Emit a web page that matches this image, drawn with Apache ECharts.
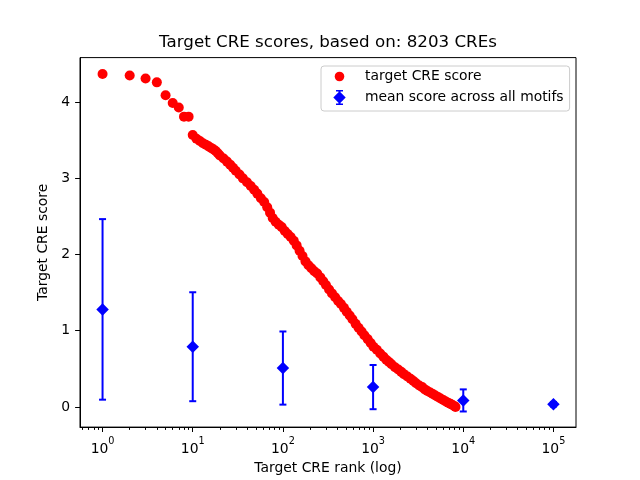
<!DOCTYPE html>
<html>
<head>
<meta charset="utf-8">
<script src="https://cdn.jsdelivr.net/npm/echarts@6/dist/echarts.min.js"></script>
<style>html,body{margin:0;padding:0;background:#fff}#c{width:640px;height:480px}</style>
</head>
<body>
<div id="c"></div>
<script>
// ---- data ----
const creRanks = [1,2,3,4,5,6,7,8,9,10,11,12,13,14,15,16,17,18,19,20,22,24,26,28,30,33,36,40,44,48,52,57,62,67,72,77,83,90,97,105,113,122,132,142,153,165,178,192,207,223,240,260,280,300,325,350,380,410,440,475,510,550,590,640,690,745,800,870,940,1010,1100,1200,1300,1400,1500,1600,1750,1900,2050,2200,2400,2600,2800,3000,3250,3500,3750,4000,4300,4600,4900,5250,5600,6000,6400,6800,7200,7600,8000,8203];
const creScores = [4.37,4.35,4.31,4.26,4.09,3.99,3.93,3.81,3.81,3.57,3.52,3.49,3.46,3.44,3.42,3.40,3.38,3.36,3.33,3.30,3.26,3.22,3.18,3.14,3.10,3.05,3.00,2.95,2.90,2.85,2.80,2.74,2.69,2.62,2.55,2.48,2.43,2.39,2.36,2.31,2.27,2.23,2.18,2.12,2.05,1.98,1.91,1.86,1.82,1.78,1.75,1.70,1.65,1.60,1.54,1.49,1.44,1.39,1.35,1.30,1.25,1.20,1.15,1.09,1.04,0.99,0.94,0.89,0.84,0.79,0.75,0.70,0.66,0.62,0.59,0.56,0.52,0.49,0.46,0.43,0.40,0.37,0.34,0.31,0.28,0.26,0.23,0.21,0.19,0.17,0.15,0.13,0.11,0.09,0.07,0.055,0.04,0.025,0.01,0.0];
const meanRanks = [1,10,100,1000,10000,100000];
const meanScores = [1.28,0.79,0.51,0.26,0.085,0.035];
const meanErrors = [1.185,0.715,0.48,0.29,0.145,0.03];
const xTickValues = [1,10,100,1000,10000,100000];
const xTickExponents = ['0','1','2','3','4','5'];
const xMinorTicks = [0.6,0.7,0.8,0.9,2,3,4,5,6,7,8,9,20,30,40,50,60,70,80,90,200,300,400,500,600,700,800,900,2000,3000,4000,5000,6000,7000,8000,9000,20000,30000,40000,50000,60000,70000,80000,90000];
const yTickValues = [0,1,2,3,4];
const titleText = 'Target CRE scores, based on: 8203 CREs';
const xName = 'Target CRE rank (log)';
const yName = 'Target CRE score';
const seriesNames = ['target CRE score','mean score across all motifs'];

const FONT = 'DejaVu Sans';
const chart = echarts.init(document.getElementById('c'), null, {renderer:'canvas'});
const xMin = Math.pow(10,-0.25), xMax = Math.pow(10,5.25);

const circleIcon = 'path://M0,0 M30,15 M4.7,7.5 A4.8,4.8 0 1,1 14.3,7.5 A4.8,4.8 0 1,1 4.7,7.5 Z';
const diamondIcon = 'path://M0,0 M30,15 M9.5,1.3 L15.7,7.5 L9.5,13.7 L3.3,7.5 Z M8.5,0 L10.5,0 L10.5,15 L8.5,15 Z M6,0 L13,0 L13,1.6 L6,1.6 Z M6,13.4 L13,13.4 L13,15 L6,15 Z';

const expOf = {};
xTickValues.forEach((v,i)=>{expOf[v]=xTickExponents[i];});

chart.setOption({
  animation:false,
  backgroundColor:'#fff',
  title:{text:titleText,left:328,top:34,padding:0,textAlign:'center',
    textStyle:{fontFamily:FONT,fontSize:16.7,fontWeight:'normal',color:'#000'}},
  legend:{
    orient:'vertical',left:321,top:66,padding:[3,6,6,9],itemGap:6,
    itemWidth:30,itemHeight:15,
    borderColor:'#cccccc',borderWidth:1,borderRadius:3,backgroundColor:'rgba(255,255,255,0.8)',
    textStyle:{fontFamily:FONT,fontSize:13.9,color:'#000'},
    data:[{name:seriesNames[0],icon:circleIcon},{name:seriesNames[1],icon:diamondIcon}]
  },
  grid:{left:80,right:64,top:57.6,bottom:52.8,show:true,borderColor:'#000',borderWidth:1,containLabel:false},
  xAxis:[{
    type:'log',logBase:10,min:xMin,max:xMax,
    name:xName,nameLocation:'middle',nameGap:30,
    nameTextStyle:{fontFamily:FONT,fontSize:13.9,color:'#000'},
    axisLine:{onZero:false,lineStyle:{color:'#000',width:1}},
    axisTick:{length:4.9,lineStyle:{color:'#000',width:1},customValues:xTickValues},
    axisLabel:{margin:9,customValues:xTickValues,color:'#000',
      formatter:(v)=>'{b|10}{s|'+(expOf[v]!==undefined?expOf[v]:'')+'}',
      rich:{b:{fontFamily:FONT,fontSize:13.9,lineHeight:20,verticalAlign:'bottom',color:'#000'},
            s:{fontFamily:FONT,fontSize:9.7,lineHeight:10,verticalAlign:'top',color:'#000'}}},
    splitLine:{show:false},minorTick:{show:false},minorSplitLine:{show:false}
  },{
    type:'log',logBase:10,min:xMin,max:xMax,gridIndex:0,position:'bottom',offset:0,
    axisLine:{show:false,onZero:false},
    axisTick:{length:2.8,lineStyle:{color:'#000',width:1},customValues:xMinorTicks},
    axisLabel:{show:false},splitLine:{show:false}
  }],
  yAxis:{
    type:'value',min:-0.265,max:4.585,
    name:yName,nameLocation:'middle',nameGap:22,nameRotate:90,
    nameTextStyle:{fontFamily:FONT,fontSize:13.9,color:'#000'},
    axisLine:{onZero:false,lineStyle:{color:'#000',width:1}},
    axisTick:{length:4.9,lineStyle:{color:'#000',width:1},customValues:yTickValues},
    axisLabel:{margin:10,customValues:yTickValues,fontFamily:FONT,fontSize:13.9,color:'#000'},
    splitLine:{show:false}
  },
  series:[{
    name:seriesNames[0],type:'scatter',xAxisIndex:0,
    data:creRanks.map((r,i)=>[r,creScores[i]]),
    symbol:'circle',symbolSize:10,itemStyle:{color:'#ff0000',opacity:1},z:2
  },{
    name:seriesNames[1],type:'custom',xAxisIndex:0,z:3,
    data:meanRanks.map((r,i)=>[r,meanScores[i],meanErrors[i]]),
    encode:{x:0,y:1},
    itemStyle:{color:'#0000ff'},
    renderItem:(params,api)=>{
      const x=api.value(0), y=api.value(1), e=api.value(2);
      const top=api.coord([x,y+e]), bot=api.coord([x,y-e]);
      const hw=3.5, st={stroke:'#0000ff',lineWidth:2};
      return {type:'group',children:[
        {type:'line',shape:{x1:top[0],y1:top[1],x2:bot[0],y2:bot[1]},style:st},
        {type:'line',shape:{x1:top[0]-hw,y1:top[1],x2:top[0]+hw,y2:top[1]},style:st},
        {type:'line',shape:{x1:bot[0]-hw,y1:bot[1],x2:bot[0]+hw,y2:bot[1]},style:st}
      ]};
    }
  },{
    name:seriesNames[1],type:'scatter',xAxisIndex:0,z:4,
    data:meanRanks.map((r,i)=>[r,meanScores[i]]),
    symbol:'diamond',symbolSize:12.5,itemStyle:{color:'#0000ff',opacity:1}
  }]
});
</script>
</body>
</html>
